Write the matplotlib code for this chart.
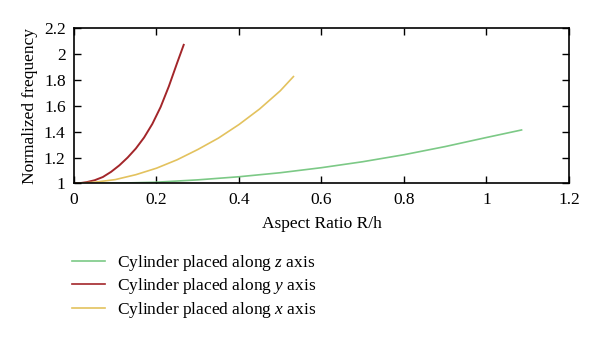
import matplotlib
matplotlib.use("Agg")
import matplotlib.pyplot as plt
from matplotlib.lines import Line2D

plt.rcParams['font.family'] = ['Liberation Serif', 'DejaVu Serif']
plt.rcParams['mathtext.fontset'] = 'custom'
plt.rcParams['mathtext.rm'] = 'Liberation Serif'
plt.rcParams['mathtext.it'] = 'Liberation Serif:italic'

# normalized frequency vs aspect ratio, one curve per cylinder orientation
x_z = [0.04, 0.1, 0.2, 0.3, 0.4, 0.5, 0.6, 0.7, 0.8, 0.9, 1.0, 1.085]
f_z = [1.0, 1.002, 1.01, 1.028, 1.052, 1.083, 1.122, 1.168, 1.222, 1.285, 1.355, 1.413]

x_y = [0.0, 0.015, 0.03, 0.05, 0.07, 0.09, 0.11, 0.13, 0.15, 0.17,
       0.19, 0.21, 0.23, 0.25, 0.266]
f_y = [1.0, 1.003, 1.01, 1.025, 1.05, 1.09, 1.14, 1.2, 1.27, 1.355,
       1.46, 1.59, 1.75, 1.93, 2.07]

x_x = [0.0, 0.05, 0.1, 0.15, 0.2, 0.25, 0.3, 0.35, 0.4, 0.45, 0.5, 0.532]
f_x = [1.0, 1.01, 1.03, 1.068, 1.118, 1.183, 1.262, 1.35, 1.455, 1.575, 1.715, 1.825]

labels = ['Cylinder placed along $z$ axis',
          'Cylinder placed along $y$ axis',
          'Cylinder placed along $x$ axis']
colors = ['#7cc986', '#a3262a', '#e3c25e']

fig = plt.figure(figsize=(6.0, 3.41), dpi=100)
ax = fig.add_axes([0.1233, 0.4619, 0.8250, 0.4560])

ax.plot(x_z, f_z, color=colors[0], lw=1.2)
ax.plot(x_y, f_y, color=colors[1], lw=1.4)
ax.plot(x_x, f_x, color=colors[2], lw=1.2)

ax.set_xlim(0, 1.2)
ax.set_ylim(1, 2.2)
ax.set_xticks([0, 0.2, 0.4, 0.6, 0.8, 1.0, 1.2])
ax.set_xticklabels(['0', '0.2', '0.4', '0.6', '0.8', '1', '1.2'])
ax.set_yticks([1, 1.2, 1.4, 1.6, 1.8, 2.0, 2.2])
ax.set_yticklabels(['1', '1.2', '1.4', '1.6', '1.8', '2', '2.2'])
ax.tick_params(direction='in', top=True, right=True, length=5, width=1,
               labelsize=12.5, pad=6)
for s in ax.spines.values():
    s.set_linewidth(1.2)
ax.set_xlabel('Aspect Ratio R/h', fontsize=12.5, labelpad=6)
ax.set_ylabel('Normalized frequency', fontsize=12.5, labelpad=4)

handles = [Line2D([], [], color=c, lw=1.2) for c in colors]
fig.legend(handles, labels, loc='upper left', bbox_to_anchor=(0.12, 0.257),
           frameon=False, fontsize=12.5, handlelength=1.9, handletextpad=0.7,
           labelspacing=0.18, borderpad=0, borderaxespad=0)

fig.savefig('out.png', dpi=100)
